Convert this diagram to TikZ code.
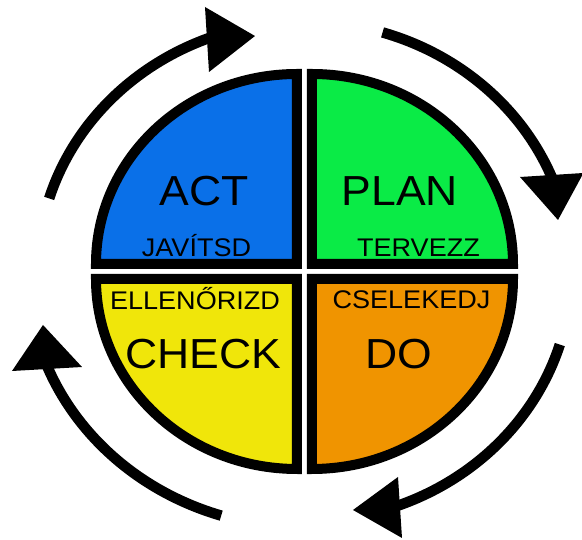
\documentclass[tikz,border=0pt]{standalone}
\usepackage{fontspec}
\setmainfont{Liberation Sans}
\definecolor{actblue}{RGB}{10,112,232}
\definecolor{plangreen}{RGB}{10,235,70}
\definecolor{checkyellow}{RGB}{240,230,10}
\definecolor{doorange}{RGB}{240,148,0}
\tikzset{
	quad/.style={draw=black, line width=10pt},
	cyc/.style={draw=black, line width=10.5pt},
	head/.style={fill=black},
	big/.style={font=\fontsize{42}{48}\selectfont, anchor=base, xscale=1.06},
	small/.style={font=\fontsize{25.5}{30}\selectfont, anchor=base, xscale=1.06}
}
\begin{document}
\begin{tikzpicture}[x=1pt,y=1pt]
	\useasboundingbox (-304.5,-268.5) rectangle (277.5,271.5);
	% the four quadrants
	\filldraw[quad, fill=actblue] (-7.5,7.5) -- (-208.5,7.5) arc[start angle=180, end angle=90, x radius=201, y radius=190] -- cycle;
	\filldraw[quad, fill=plangreen] (7.5,7.5) -- (7.5,197.5) arc[start angle=90, end angle=0, x radius=201, y radius=190] -- cycle;
	\filldraw[quad, fill=doorange] (7.5,-7.5) -- (208.5,-7.5) arc[start angle=0, end angle=-90, x radius=201, y radius=190] -- cycle;
	\filldraw[quad, fill=checkyellow] (-7.5,-7.5) -- (-7.5,-197.5) arc[start angle=270, end angle=180, x radius=201, y radius=190] -- cycle;
	\node[big] (act) at (-100,65.5) {ACT};
	\node[small] (javit) at (-108,14.5) {JAVÍTSD};
	\node[big] (plan) at (95.5,65.5) {PLAN};
	\node[small] (terv) at (114,14.5) {TERVEZZ};
	\node[small] (ellen) at (-109.5,-38.5) {ELLENŐRIZD};
	\node[big] (check) at (-101,-97.5) {CHECK};
	\node[small] (csel) at (107,-37) {CSELEKEDJ};
	\node[big] (do) at (94,-97) {DO};
	% cycle arrows
	\foreach \s in {163,73,-17}
		\draw[cyc] (\s:267 and 250) arc[start angle=\s, delta angle=-54, x radius=267, y radius=250];
	\draw[cyc] (252.5:277 and 256) arc[start angle=252.5, end angle=200, x radius=277, y radius=256];
	\fill[head] (-99.5,264.5) -- (-49.5,235.5) -- (-95.5,199.5) -- cycle;
	\fill[head] (215.5,94.5) -- (279,98.5) -- (253.5,51.5) -- cycle;
	\fill[head] (93.5,-205.5) -- (48.5,-238.5) -- (97.5,-266.5) -- cycle;
	\fill[head] (-292.5,-99.5) -- (-261.5,-53.5) -- (-222.5,-95.5) -- cycle;
\end{tikzpicture}
\end{document}
